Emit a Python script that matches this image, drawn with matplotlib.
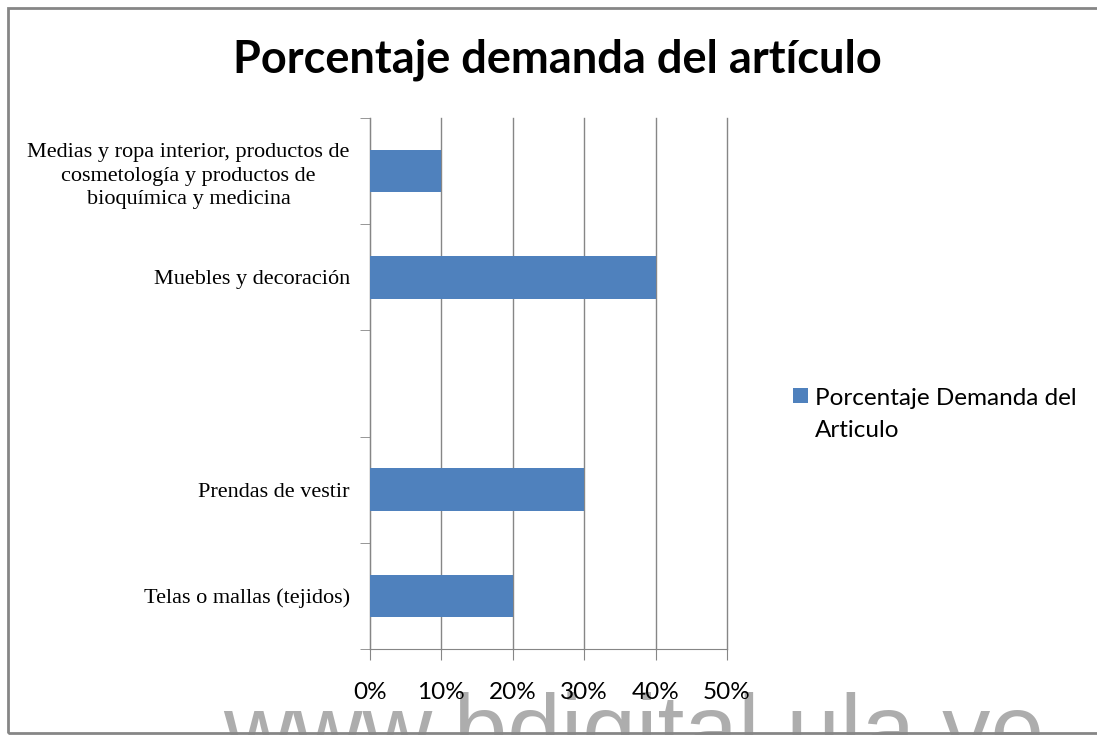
import numpy as np
import matplotlib.pyplot as plt
from matplotlib.patches import Rectangle
from matplotlib.container import BarContainer
from matplotlib.legend_handler import HandlerPatch

# --- Datos ---
categorias = [
    "Telas o mallas (tejidos)",
    "Prendas de vestir",
    "",
    "Muebles y decoración",
    "Medias y ropa interior, productos de\ncosmetología y productos de\nbioquímica y medicina",
]
porcentajes = [0.20, 0.30, np.nan, 0.40, 0.10]
ticks_x = [0.0, 0.1, 0.2, 0.3, 0.4, 0.5]
etiquetas_x = ["0%", "10%", "20%", "30%", "40%", "50%"]
serie = "Porcentaje Demanda del\nArticulo"

azul = "#4f81bd"
gris = "#868686"
fuente_sans = ["Lato", "DejaVu Sans"]
fuente_serif = ["Liberation Serif", "DejaVu Serif"]

fig = plt.figure(figsize=(10.97, 7.35), dpi=100)
ax = fig.add_axes([370 / 1097, 1 - 649 / 735, 357 / 1097, 531 / 735])

y = np.arange(len(categorias))
barras = ax.barh(y, porcentajes, height=0.4, color=azul, label=serie, zorder=3)

ax.set_xlim(0, 0.5)
ax.set_ylim(-0.5, len(categorias) - 0.5)

# Ejes y cuadrícula
ax.set_xticks(ticks_x)
ax.set_xticklabels(etiquetas_x, family=fuente_sans, fontsize=17.5)
ax.tick_params(axis="x", length=8, color=gris, pad=16)
ax.set_yticks(y)
ax.set_yticklabels(categorias, family=fuente_serif, fontsize=16,
                   multialignment="center", linespacing=1.35)
ax.tick_params(axis="y", which="major", length=0, pad=14.5)
ax.set_yticks(np.arange(-0.5, len(categorias)), minor=True)
ax.tick_params(axis="y", which="minor", length=7, color=gris)
ax.grid(True, axis="x", color=gris, linewidth=1, zorder=0)
for linea in ax.get_xgridlines():
    linea.set_clip_on(False)
for lado in ["top", "right"]:
    ax.spines[lado].set_visible(False)
for lado in ["left", "bottom"]:
    ax.spines[lado].set_color(gris)

# Título
fig.text(0.508, 1 - 60 / 735, "Porcentaje demanda del artículo", ha="center", va="center",
         family=fuente_sans, fontsize=32.5, fontweight="bold")


# Leyenda con el cuadro alineado a la primera línea
def cuadro_arriba(legend, orig_handle, xdescent, ydescent, width, height, fontsize):
    lado = width
    return Rectangle((-xdescent, -ydescent + height - lado + 0.05 * fontsize), lado, lado)


def color_primera_barra(legend_handle, orig_handle):
    legend_handle.update_from(orig_handle[0])


leyenda = fig.legend(handles=[barras], labels=[serie], loc="upper left",
                     bbox_to_anchor=(793 / 1097, 1 - 388 / 735), frameon=False,
                     prop={"family": fuente_sans, "size": 17.5}, handlelength=0.62,
                     handleheight=3.0, handletextpad=0.3, borderpad=0, borderaxespad=0,
                     handler_map={BarContainer: HandlerPatch(patch_func=cuadro_arriba,
                                                             update_func=color_primera_barra)})
for t in leyenda.get_texts():
    t.set_linespacing(1.65)

# Marca de agua
fig.text(223 / 1097, 1 - 762 / 735, "www.bdigital.ula.ve", family=["Liberation Sans"],
         fontsize=69.5, color="#adadad", ha="left", va="baseline", zorder=-1)

# Marco del gráfico
fig.add_artist(Rectangle((8 / 1097, 2 / 735), 1.0, 725 / 735, transform=fig.transFigure,
                         fill=False, edgecolor=gris, linewidth=2))

fig.savefig("out.png", dpi=100)
